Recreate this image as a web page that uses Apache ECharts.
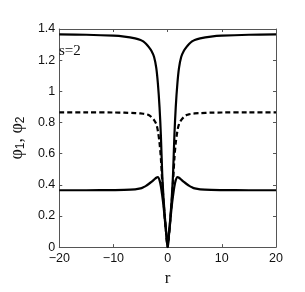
<!DOCTYPE html>
<html><head><meta charset="utf-8">
<script src="https://cdn.jsdelivr.net/npm/echarts@6/dist/echarts.min.js"></script>
<style>html,body{margin:0;padding:0;background:#fff}#c{width:305px;height:292px}</style>
</head><body><div id="c"></div>
<script>
var r = [-20,-15,-10,-8,-6,-5,-4.5,-4,-3.5,-3,-2.5,-2.1,-1.8,-1.5,-1.25,-1,-0.75,-0.5,-0.25,0,0.25,0.5,0.75,1,1.25,1.5,1.8,2.1,2.5,3,3.5,4,4.5,5,6,8,10,15,20];
var phiUpper = [1.365,1.363,1.357,1.351,1.34,1.33,1.32,1.305,1.285,1.26,1.22,1.15,1.05,0.9,0.72,0.47,0.31,0.19,0.09,0,0.09,0.19,0.31,0.47,0.72,0.9,1.05,1.15,1.22,1.26,1.285,1.305,1.32,1.33,1.34,1.351,1.357,1.363,1.365];
var phiDashed = [0.865,0.865,0.864,0.863,0.86,0.858,0.856,0.853,0.848,0.835,0.815,0.79,0.745,0.67,0.57,0.42,0.29,0.18,0.08,0,0.08,0.18,0.29,0.42,0.57,0.67,0.745,0.79,0.815,0.835,0.848,0.853,0.856,0.858,0.86,0.863,0.864,0.865,0.865];
var phiLower = [0.365,0.365,0.366,0.367,0.371,0.377,0.384,0.393,0.405,0.418,0.433,0.445,0.45,0.43,0.39,0.33,0.26,0.17,0.08,0,0.08,0.17,0.26,0.33,0.39,0.43,0.45,0.445,0.433,0.418,0.405,0.393,0.384,0.377,0.371,0.367,0.366,0.365,0.365];
var xTicks = [-20,-10,0,10,20];
var yTicks = [0,0.2,0.4,0.6,0.8,1,1.2,1.4];

function pairs(ys){ return r.map(function(x,i){ return [x, ys[i]]; }); }
var chart = echarts.init(document.getElementById('c'), null, {renderer:'canvas'});
var axisCol = '#555';
var lab = {color:'#111', fontFamily:'Liberation Sans, Arial, sans-serif', fontSize:12.5};
chart.setOption({
  animation:false,
  backgroundColor:'#fff',
  grid:{left:53.5, right:29, top:29, bottom:41, containLabel:false},
  xAxis:[{
    type:'value', min:-20, max:20, interval:10,
    axisLine:{show:true, onZero:false, lineStyle:{color:axisCol, width:1}},
    axisTick:{show:true, inside:true, length:3, lineStyle:{color:axisCol}},
    splitLine:{show:false},
    axisLabel:Object.assign({margin:5, formatter:function(v){ return xTicks.indexOf(v)>=0 ? String(v).replace('-', '\u2212') : ''; }}, lab),
    name:'r', nameLocation:'middle', nameGap:19,
    nameTextStyle:{fontFamily:'Liberation Serif, Times New Roman, serif', fontSize:17, color:'#111'}
  },{
    type:'value', position:'top', min:-20, max:20, interval:10,
    axisLine:{show:true, onZero:false, lineStyle:{color:axisCol, width:1}},
    axisTick:{show:true, inside:true, length:3, lineStyle:{color:axisCol}},
    axisLabel:{show:false}, splitLine:{show:false}
  }],
  yAxis:[{
    type:'value', min:0, max:1.4, interval:0.2,
    axisLine:{show:true, onZero:false, lineStyle:{color:axisCol, width:1}},
    axisTick:{show:true, inside:true, length:3, lineStyle:{color:axisCol}},
    splitLine:{show:false},
    axisLabel:Object.assign({margin:4, formatter:function(v){ var t=Math.round(v*10)/10; return yTicks.indexOf(t)>=0 ? String(t) : ''; }}, lab),
    name:'{a|\u03c6}{s|1}{a|, \u03c6}{s|2}', nameLocation:'middle', nameGap:30, nameRotate:90,
    nameTextStyle:{rich:{
      a:{fontFamily:'Liberation Serif, Times New Roman, serif', fontSize:18, color:'#111'},
      s:{fontFamily:'Liberation Sans, Arial, sans-serif', fontSize:12, color:'#111', verticalAlign:'bottom', padding:[8,0,0,0]}
    }}
  },{
    type:'value', position:'right', min:0, max:1.4, interval:0.2,
    axisLine:{show:true, onZero:false, lineStyle:{color:axisCol, width:1}},
    axisTick:{show:true, inside:true, length:3, lineStyle:{color:axisCol}},
    axisLabel:{show:false}, splitLine:{show:false}
  }],
  graphic:[{type:'text', x:59, y:44, z:100, style:{text:'s=2', x:0, y:0, fontFamily:'Liberation Serif, Times New Roman, serif', fontSize:15, fill:'#111', textAlign:'left', textVerticalAlign:'top'}}],
  series:[
    {type:'line', data:pairs(phiUpper), showSymbol:false, smooth:0.3, lineStyle:{color:'#000', width:2.2}},
    {type:'line', data:pairs(phiDashed), showSymbol:false, smooth:0.3, lineStyle:{color:'#000', width:2.2, type:[5,3]}},
    {type:'line', data:pairs(phiLower), showSymbol:false, smooth:0.3, lineStyle:{color:'#000', width:2.2}}
  ]
});
</script></body></html>
